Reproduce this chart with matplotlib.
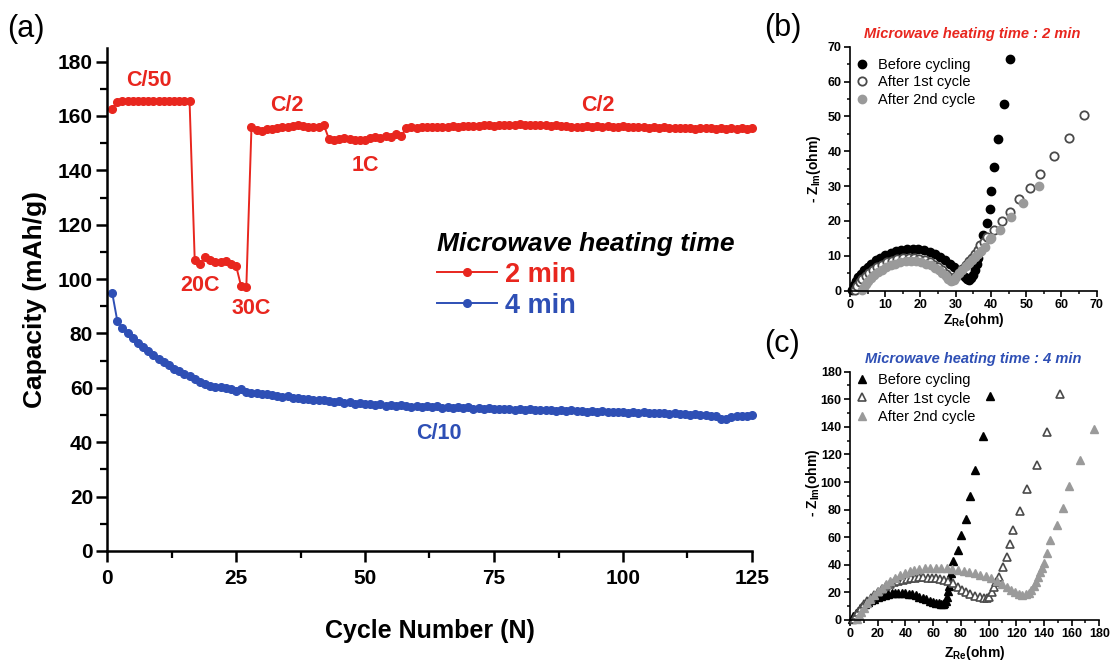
import matplotlib
matplotlib.use("Agg")
import matplotlib.pyplot as plt
from matplotlib.ticker import MultipleLocator

plt.rcParams['font.family'] = ['Liberation Sans', 'DejaVu Sans']
plt.rcParams['mathtext.fontset'] = 'custom'
plt.rcParams['mathtext.rm'] = 'Liberation Sans'
plt.rcParams['mathtext.bf'] = 'Liberation Sans:bold'
plt.rcParams['mathtext.it'] = 'Liberation Sans:italic'

# ---------------- data: panel (a) ----------------
cycles = list(range(1, 126))
cap_2min = [162.5,
            165.3, 165.6, 165.5, 165.4, 165.6, 165.5, 165.5, 165.4, 165.6, 165.5, 165.5, 165.6, 165.4, 165.5, 165.5,
            107.0, 105.6, 108.0, 107.0, 106.4, 106.2, 106.6, 105.4, 105.0,
            97.3, 97.0,
            156.0, 155.0, 154.6, 155.3, 155.2, 155.6, 155.8, 156.0, 156.2, 156.5, 156.3, 156.0, 155.9, 156.1, 156.8,
            151.6, 151.0, 151.4, 151.8, 151.5, 151.2, 151.0, 151.3, 151.9, 152.3, 152.0, 152.6, 152.3, 153.2, 152.6,
            155.6, 155.8, 155.7, 155.9, 155.8, 156.0, 155.9, 156.1, 156.0, 156.2,
            156.1, 156.3, 156.2, 156.4, 156.3, 156.5, 156.6, 156.4, 156.7, 156.6,
            156.8, 156.6, 156.9, 156.7, 156.8, 156.6, 156.5, 156.7, 156.4, 156.5,
            156.3, 156.2, 156.0, 155.8, 156.0, 156.2, 156.1, 156.3, 156.0, 156.2,
            156.1, 156.0, 156.2, 155.9, 156.1, 155.8, 156.0, 155.7, 155.9, 155.6,
            155.8, 155.5, 155.7, 155.4, 155.6, 155.5, 155.3, 155.6, 155.4, 155.5,
            155.3, 155.6, 155.2, 155.5, 155.3, 155.4, 155.2, 155.5]
cap_4min = [95.0, 84.6, 82.0, 80.0, 78.3, 76.6, 75.0, 73.4, 72.0, 70.7,
            69.4, 68.3, 67.1, 66.1, 65.2, 64.3, 63.3, 62.2, 61.3, 60.8,
            60.5, 60.3, 59.8, 59.4, 59.0, 59.4, 58.6, 58.2, 58.0, 57.6,
            57.7, 57.2, 57.0, 56.7, 56.9, 56.3, 56.1, 55.8, 56.0, 55.6,
            55.4, 55.7, 55.1, 54.8, 55.2, 54.6, 54.9, 53.9, 54.5, 54.2,
            54.0, 53.7, 54.1, 53.5, 53.8, 53.2, 53.6, 53.4, 53.0, 53.5,
            53.1, 53.4, 52.8, 53.2, 52.7, 53.0, 52.6, 52.9, 52.5, 52.8,
            52.4, 52.7, 52.3, 52.5, 52.2, 52.4, 52.1, 52.3, 52.0, 52.2,
            51.9, 52.1, 51.8, 52.0, 51.7, 51.9, 51.6, 51.8, 51.5, 51.7,
            51.4, 51.6, 51.3, 51.5, 51.2, 51.4, 51.1, 51.3, 51.0, 51.2,
            50.9, 51.1, 50.8, 51.0, 50.7, 50.9, 50.6, 50.8, 50.5, 50.7,
            50.3, 50.5, 50.2, 50.3, 50.0, 50.1, 49.8, 49.6, 48.4, 48.7,
            49.2, 49.5, 49.6, 49.8, 50.0]
rate_labels = ["C/50", "20C", "30C", "C/2", "1C", "C/2"]
rate_label_xy = [(8.1, 173.2), (18.0, 97.8), (27.9, 89.3), (34.8, 164.0), (50.0, 141.9), (95.1, 164.0)]
series_labels = ["2 min", "4 min"]
legend_title = "Microwave heating time"

# ---------------- data: panel (b) ----------------
b_before_x = [0.5, 1.0, 1.6, 2.3, 3.1, 4.0, 5.0, 6.1, 7.3, 8.6, 10.0, 11.5, 13.0, 14.6, 16.2, 17.8, 19.4, 21.0,
              22.6, 24.1, 25.6, 27.0, 28.3, 29.5, 30.6, 31.6, 32.5, 33.2, 33.8, 34.4, 35.0, 35.5, 35.9, 36.3,
              36.7, 37.2, 37.6, 38.9, 39.6, 40.1, 41.0, 42.0, 43.6, 45.3]
b_before_y = [0.2, 1.5, 2.7, 3.8, 4.9, 5.9, 6.9, 7.8, 8.7, 9.5, 10.2, 10.9, 11.4, 11.8, 12.0, 12.1, 12.0, 11.6,
              11.2, 10.6, 9.8, 8.9, 7.8, 6.8, 5.7, 4.7, 3.9, 3.3, 3.2, 3.6, 4.6, 6.0, 7.6, 9.4,
              11.2, 13.2, 16.0, 19.5, 23.5, 28.7, 35.5, 43.6, 53.6, 66.5]
b_first_x = [1.4, 2.0, 2.7, 3.5, 4.4, 5.4, 6.5, 7.7, 9.0, 10.4, 11.9, 13.4, 15.0, 16.6, 18.2, 19.7, 21.2, 22.6,
             23.9, 25.1, 26.2, 27.2, 28.0, 28.9, 29.8, 30.8, 31.8, 32.8, 33.7, 34.6, 35.6, 36.3, 37.0, 38.0,
             38.9, 40.9, 43.2, 45.4, 48.0, 51.0, 54.0, 57.8, 62.1, 66.3]
b_first_y = [0.2, 1.3, 2.4, 3.4, 4.3, 5.2, 6.0, 6.8, 7.5, 8.1, 8.6, 9.0, 9.3, 9.4, 9.3, 9.1, 8.7, 8.2,
             7.5, 6.7, 5.8, 4.8, 3.9, 3.0, 3.8, 5.0, 6.2, 7.3, 8.4, 9.4, 10.5, 11.8, 13.0, 14.0,
             15.3, 17.5, 20.1, 22.7, 26.2, 29.6, 33.6, 38.6, 43.9, 50.3]
b_second_x = [3.4, 3.9, 4.5, 5.2, 6.0, 6.9, 7.9, 9.0, 10.2, 11.5, 12.9, 14.3, 15.8, 17.3, 18.8, 20.2, 21.6,
              22.9, 24.1, 25.2, 26.2, 27.1, 27.9, 28.6, 29.4, 30.2, 31.0, 31.9, 32.8, 33.7, 34.6, 35.5,
              36.4, 37.3, 38.2, 39.6, 40.1, 42.6, 45.6, 49.0, 53.7]
b_second_y = [0.2, 1.0, 1.9, 2.8, 3.7, 4.5, 5.3, 6.0, 6.7, 7.3, 7.8, 8.2, 8.4, 8.5, 8.4, 8.2, 7.8,
              7.3, 6.6, 5.8, 5.0, 4.1, 3.3, 2.7, 3.2, 4.0, 5.0, 6.0, 7.0, 7.9, 8.8, 9.7,
              10.6, 11.5, 12.4, 14.7, 15.0, 17.5, 21.2, 25.1, 29.9]

# ---------------- data: panel (c) ----------------
c_before_x = [1.2, 2.5, 4.0, 5.5, 7.2, 9.0, 11.0, 13.0, 15.2, 17.5, 20.0, 22.5, 25.0, 27.5, 30.0, 32.5, 35.0,
              37.5, 40.0, 42.5, 45.0, 47.5, 50.0, 52.5, 55.0, 57.5, 60.0, 62.0, 64.0, 65.5, 67.0, 68.0, 69.0,
              69.8, 70.5, 71.2, 72.0, 73.0, 74.5, 78.2, 79.9, 83.7, 86.6, 90.2, 96.2, 101.0]
c_before_y = [1.0, 3.0, 5.0, 6.8, 8.5, 10.0, 11.6, 13.0, 14.3, 15.5, 16.6, 17.5, 18.3, 18.9, 19.3, 19.6, 19.7,
              19.6, 19.4, 19.0, 18.5, 17.8, 17.0, 16.1, 15.1, 14.1, 13.2, 12.5, 12.0, 11.7, 11.6, 12.0, 14.0,
              17.0, 21.0, 25.0, 29.0, 34.0, 43.0, 51.0, 61.4, 73.4, 90.0, 108.8, 133.6, 162.5]
c_first_x = [3.0, 4.5, 6.0, 8.0, 10.0, 12.5, 15.0, 17.5, 20.0, 23.0, 26.0, 29.0, 32.0, 35.0, 38.0, 41.0, 44.0,
             47.0, 50.0, 53.0, 56.0, 59.0, 62.0, 65.0, 68.0, 71.0, 74.5, 78.0, 81.0, 84.0, 87.0, 90.0, 93.8,
             96.5, 98.6, 100.5, 102.2, 104.0, 105.5, 107.8, 110.6, 113.0, 115.5, 117.9, 122.7, 127.5, 134.7,
             141.9, 151.5]
c_first_y = [1.0, 3.5, 6.0, 8.8, 11.3, 13.8, 16.2, 18.4, 20.4, 22.5, 24.3, 25.9, 27.2, 28.3, 29.2, 29.9, 30.4,
             30.7, 30.9, 30.9, 30.8, 30.6, 30.3, 29.9, 29.3, 28.2, 26.5, 24.0, 22.0, 20.4, 18.9, 17.6, 16.8,
             16.0, 15.6, 16.5, 20.4, 24.0, 27.5, 31.3, 38.5, 45.7, 55.4, 65.0, 78.9, 95.1, 112.6,
             136.5, 163.7]
c_second_x = [5.0, 6.5, 8.0, 10.0, 12.0, 14.5, 17.0, 20.0, 23.0, 26.0, 29.0, 32.5, 36.0, 39.5, 43.0, 46.5,
              50.0, 54.0, 58.0, 62.0, 66.0, 70.0, 74.0, 78.0, 82.0, 86.0, 90.0, 94.0, 98.0, 102.0, 106.0,
              110.0, 113.0, 116.0, 119.0, 122.0, 124.5, 127.0, 129.0, 131.0, 132.5, 134.0, 135.5, 137.1,
              138.6, 140.3, 141.9, 144.3, 149.1, 153.5, 158.3, 166.4, 176.0]
c_second_y = [1.0, 3.5, 6.0, 9.0, 12.0, 15.0, 18.0, 21.0, 23.5, 26.0, 28.3, 30.5, 32.5, 34.2, 35.6, 36.6,
              37.3, 37.7, 37.9, 37.9, 37.8, 37.5, 37.0, 36.3, 35.5, 34.7, 33.8, 32.8, 31.6, 30.2, 28.5,
              26.3, 24.2, 22.0, 20.2, 18.9, 18.3, 18.6, 19.8, 21.8, 24.3, 27.5, 31.0, 34.9,
              38.0, 41.4, 48.6, 57.8, 68.6, 80.9, 96.8, 116.0, 138.4]
eis_labels = ["Before cycling", "After 1st cycle", "After 2nd cycle"]

RED = '#E8261E'
BLUE = '#2E4FB5'
GRAY = '#9A9A9A'
DARK = '#4A4A4A'

W, H = 1111, 664
fig = plt.figure(figsize=(W / 100, H / 100), dpi=100)


def px_axes(l, r, b, t):
    return fig.add_axes([l / W, 1 - b / H, (r - l) / W, (b - t) / H])


def style(ax, fs, maj, mnr, lw, pad=2):
    for s in ['top', 'right']:
        ax.spines[s].set_visible(False)
    for s in ['left', 'bottom']:
        ax.spines[s].set_linewidth(lw)
    ax.tick_params(which='major', direction='out', length=maj, width=lw, labelsize=fs, pad=pad)
    ax.tick_params(which='minor', direction='out', length=mnr, width=lw * 0.9)
    for lab in ax.get_xticklabels() + ax.get_yticklabels():
        lab.set_fontweight('bold')


# ---------------- panel (a) ----------------
ax = px_axes(107, 752, 551, 48)
ax.plot(cycles, cap_2min, '-o', color=RED, lw=1.4, ms=5.5, label=series_labels[0], clip_on=False)
ax.plot(cycles, cap_4min, '-o', color=BLUE, lw=1.4, ms=5.5, label=series_labels[1], clip_on=False)
ax.set_xlim(0, 125)
ax.set_ylim(0, 185)
ax.xaxis.set_major_locator(MultipleLocator(25))
ax.xaxis.set_minor_locator(MultipleLocator(12.5))
ax.yaxis.set_major_locator(MultipleLocator(20))
ax.yaxis.set_minor_locator(MultipleLocator(10))
style(ax, 15, 8, 5, 1.8)
ax.tick_params(axis='x', which='major', pad=5)
ax.set_xlabel('Cycle Number (N)', fontsize=18, fontweight='bold', labelpad=22)
ax.set_ylabel('Capacity (mAh/g)', fontsize=19, fontweight='bold', labelpad=8)
for lab, (x, y) in zip(rate_labels, rate_label_xy):
    ax.text(x, y, lab, color=RED, fontsize=15.5, fontweight='bold', ha='center', va='center')
ax.text(64.3, 43.3, 'C/10', color=BLUE, fontsize=15.5, fontweight='bold', ha='center', va='center')
leg = ax.legend(loc='upper left', bbox_to_anchor=(0.512, 0.634), frameon=False, title=legend_title,
                alignment='left', fontsize=19.5, handlelength=2.2, handletextpad=0.3, labelspacing=0.2,
                borderaxespad=0, borderpad=0, labelcolor='linecolor', markerscale=1.0)
leg.get_title().set_fontsize(19)
leg.get_title().set_fontweight('bold')
leg.get_title().set_fontstyle('italic')
for t in leg.get_texts():
    t.set_fontweight('bold')
fig.text(7 / W, 1 - 29 / H, '(a)', fontsize=22, va='center', ha='left')

# ---------------- panel (b) ----------------
axb = px_axes(850, 1096.7, 290.7, 46.7)
axb.plot(b_before_x, b_before_y, 'o', color='black', ms=6, ls='none', label=eis_labels[0], clip_on=False)
axb.plot(b_first_x, b_first_y, 'o', mfc='white', mec=DARK, mew=1.3, ms=6, ls='none', label=eis_labels[1], clip_on=False)
axb.plot(b_second_x, b_second_y, 'o', color=GRAY, ms=6, ls='none', label=eis_labels[2], clip_on=False)
axb.set_xlim(0, 70)
axb.set_ylim(0, 70)
axb.xaxis.set_major_locator(MultipleLocator(10))
axb.xaxis.set_minor_locator(MultipleLocator(5))
axb.yaxis.set_major_locator(MultipleLocator(10))
axb.yaxis.set_minor_locator(MultipleLocator(5))
style(axb, 9, 4, 2.5, 1.2)
axb.set_xlabel(r'Z$_{\mathbf{Re}}$(ohm)', fontsize=10, fontweight='bold', labelpad=0)
axb.set_ylabel(r'- Z$_{\mathbf{Im}}$(ohm)', fontsize=10, fontweight='bold', labelpad=3)
axb.set_title('Microwave heating time : 2 min', color=RED, fontsize=10.5, fontweight='bold',
              fontstyle='italic', pad=6, x=0.495)
axb.legend(loc='upper left', bbox_to_anchor=(0.018, 0.955), frameon=False, fontsize=10.5, handlelength=1.0,
           handletextpad=0.6, labelspacing=0.26, borderaxespad=0, borderpad=0)
fig.text(764 / W, 1 - 28 / H, '(b)', fontsize=22, va='center', ha='left')

# ---------------- panel (c) ----------------
axc = px_axes(850, 1099.3, 620, 371.7)
axc.plot(c_before_x, c_before_y, '^', color='black', ms=6, ls='none', label=eis_labels[0], clip_on=False)
axc.plot(c_first_x, c_first_y, '^', mfc='white', mec=DARK, mew=1.2, ms=6, ls='none', label=eis_labels[1], clip_on=False)
axc.plot(c_second_x, c_second_y, '^', color=GRAY, ms=6, ls='none', label=eis_labels[2], clip_on=False)
axc.set_xlim(0, 180)
axc.set_ylim(0, 180)
axc.xaxis.set_major_locator(MultipleLocator(20))
axc.xaxis.set_minor_locator(MultipleLocator(10))
axc.yaxis.set_major_locator(MultipleLocator(20))
axc.yaxis.set_minor_locator(MultipleLocator(10))
style(axc, 9, 4, 2.5, 1.2)
axc.set_xlabel(r'Z$_{\mathbf{Re}}$(ohm)', fontsize=10, fontweight='bold', labelpad=3)
axc.set_ylabel(r'- Z$_{\mathbf{Im}}$(ohm)', fontsize=10, fontweight='bold')
axc.yaxis.set_label_coords(-0.112, 0.552)
axc.set_title('Microwave heating time : 4 min', color=BLUE, fontsize=10.5, fontweight='bold',
              fontstyle='italic', pad=6, x=0.495)
axc.legend(loc='upper left', bbox_to_anchor=(0.02, 0.993), frameon=False, fontsize=10.5, handlelength=1.0,
           handletextpad=0.6, labelspacing=0.28, borderaxespad=0, borderpad=0)
fig.text(764 / W, 1 - 344 / H, '(c)', fontsize=22, va='center', ha='left')

fig.savefig('out.png', dpi=100)
